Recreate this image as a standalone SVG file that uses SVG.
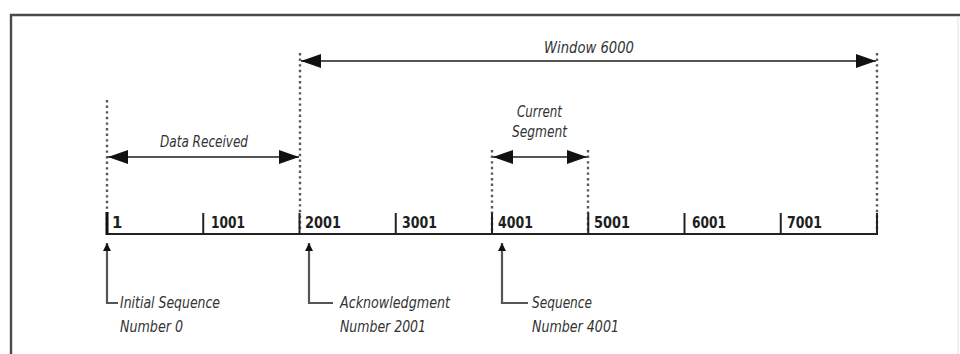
<svg xmlns="http://www.w3.org/2000/svg" width="960" height="354" viewBox="0 0 960 354">
<style>
.lbl{font-family:"DejaVu Sans Condensed","DejaVu Sans","Liberation Sans",sans-serif;font-stretch:condensed;font-style:italic;font-size:16.5px;fill:#333}
.num{font-family:"DejaVu Sans Condensed","DejaVu Sans","Liberation Sans",sans-serif;font-stretch:condensed;font-weight:bold;font-size:16.5px;fill:#1e1e1e}
.dot{stroke:#5a5a5a;stroke-width:2.4;stroke-dasharray:2.4 3.2;fill:none}
.arr{stroke:#555;stroke-width:2.2;fill:none}
.tick{stroke:#222;stroke-width:2}
</style>
<defs>
<marker id="ah" viewBox="0 0 20 14" refX="20" refY="7" markerWidth="20" markerHeight="14" markerUnits="userSpaceOnUse" orient="auto-start-reverse">
<path d="M0,0 L20,7 L0,14 z" fill="#111"/>
</marker>
<marker id="sm" viewBox="0 0 8 8" refX="8" refY="4" markerWidth="8" markerHeight="8" markerUnits="userSpaceOnUse" orient="auto">
<path d="M0,0 L8,4 L0,8 z" fill="#111"/>
</marker>
</defs>
<rect width="960" height="354" fill="#fff"/>
<g id="frame">
<line x1="10" y1="15" x2="960" y2="15" stroke="#4a4a4a" stroke-width="2.4"/>
<line x1="11" y1="14" x2="11" y2="354" stroke="#4a4a4a" stroke-width="2.4"/>
<line x1="958" y1="16" x2="958" y2="354" stroke="#e2e2e2" stroke-width="1"/>
</g>
<g id="connectors">
<line class="dot" x1="107" y1="100" x2="107" y2="232"/>
<line class="dot" x1="300" y1="53" x2="300" y2="232"/>
<line class="dot" x1="492" y1="150" x2="492" y2="232"/>
<line class="dot" x1="588" y1="150" x2="588" y2="232"/>
<line class="dot" x1="877" y1="53" x2="877" y2="232"/>
<line class="arr" x1="301" y1="61" x2="876" y2="61" marker-start="url(#ah)" marker-end="url(#ah)"/>
<line class="arr" x1="108" y1="157" x2="299" y2="157" marker-start="url(#ah)" marker-end="url(#ah)"/>
<line class="arr" x1="493" y1="157" x2="587" y2="157" marker-start="url(#ah)" marker-end="url(#ah)"/>
<polyline class="arr" points="118,303 107,303 107,243" marker-end="url(#sm)"/>
<polyline class="arr" points="333,303 309,303 309,243" marker-end="url(#sm)"/>
<polyline class="arr" points="528,303 502,303 502,243" marker-end="url(#sm)"/>
</g>
<g id="axis">
<line x1="106" y1="234" x2="878" y2="234" stroke="#222" stroke-width="2"/>
<line x1="107" y1="212" x2="107" y2="235" stroke="#111" stroke-width="3"/>
<line class="tick" x1="203.25" y1="213" x2="203.25" y2="234"/>
<line class="tick" x1="299.5" y1="213" x2="299.5" y2="234"/>
<line class="tick" x1="395.75" y1="213" x2="395.75" y2="234"/>
<line class="tick" x1="492" y1="213" x2="492" y2="234"/>
<line class="tick" x1="588.25" y1="213" x2="588.25" y2="234"/>
<line class="tick" x1="684.5" y1="213" x2="684.5" y2="234"/>
<line class="tick" x1="780.75" y1="213" x2="780.75" y2="234"/>
<line class="tick" x1="877" y1="213" x2="877" y2="234"/>
<text class="num" x="112" y="228">1</text>
<text class="num" x="211" y="228" textLength="34" lengthAdjust="spacingAndGlyphs">1001</text>
<text class="num" x="305" y="228" textLength="36" lengthAdjust="spacingAndGlyphs">2001</text>
<text class="num" x="402" y="228" textLength="35" lengthAdjust="spacingAndGlyphs">3001</text>
<text class="num" x="498" y="228" textLength="35" lengthAdjust="spacingAndGlyphs">4001</text>
<text class="num" x="594" y="228" textLength="36" lengthAdjust="spacingAndGlyphs">5001</text>
<text class="num" x="692" y="228" textLength="34" lengthAdjust="spacingAndGlyphs">6001</text>
<text class="num" x="787" y="228" textLength="35" lengthAdjust="spacingAndGlyphs">7001</text>
</g>
<g id="window">
<text class="lbl" x="544" y="53" textLength="90" lengthAdjust="spacingAndGlyphs">Window 6000</text>
</g>
<g id="data-received">
<text class="lbl" x="160" y="147" textLength="88" lengthAdjust="spacingAndGlyphs">Data Received</text>
</g>
<g id="current-segment">
<text class="lbl" x="517" y="117" textLength="45" lengthAdjust="spacingAndGlyphs">Current</text>
<text class="lbl" x="512" y="137" textLength="55" lengthAdjust="spacingAndGlyphs">Segment</text>
</g>
<g id="initial-sequence">
<text class="lbl" x="120" y="308" textLength="100" lengthAdjust="spacingAndGlyphs">Initial Sequence</text>
<text class="lbl" x="120" y="332" textLength="63" lengthAdjust="spacingAndGlyphs">Number 0</text>
</g>
<g id="acknowledgment">
<text class="lbl" x="340" y="308" textLength="110" lengthAdjust="spacingAndGlyphs">Acknowledgment</text>
<text class="lbl" x="340" y="332" textLength="86" lengthAdjust="spacingAndGlyphs">Number 2001</text>
</g>
<g id="sequence">
<text class="lbl" x="532" y="308" textLength="60" lengthAdjust="spacingAndGlyphs">Sequence</text>
<text class="lbl" x="532" y="332" textLength="87" lengthAdjust="spacingAndGlyphs">Number 4001</text>
</g>
</svg>
